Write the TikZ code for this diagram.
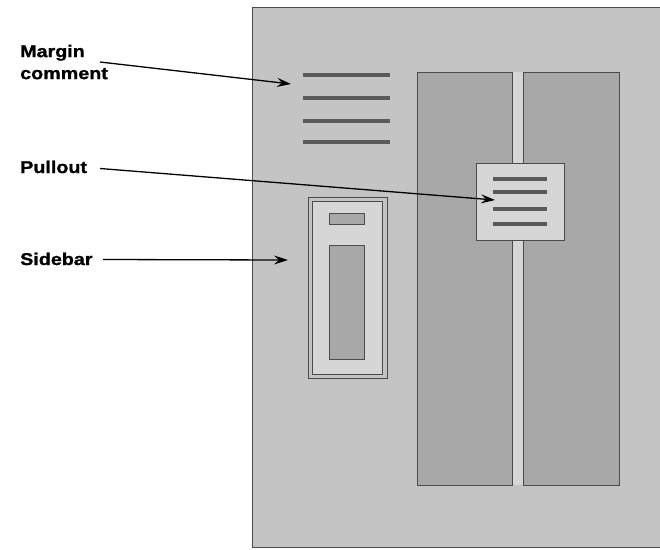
\documentclass[tikz,border=0pt]{standalone}
\usepackage{fontspec}
\newfontfamily\labfont[FakeStretch=1.16,FakeBold=1.2]{Liberation Sans Bold}
\usetikzlibrary{arrows.meta}
\definecolor{pagegray}{RGB}{196,196,196}
\definecolor{colgray}{RGB}{168,168,168}
\definecolor{lightgray}{RGB}{214,214,214}
\definecolor{edgegray}{RGB}{75,75,75}
\definecolor{linegray}{RGB}{90,90,90}
\begin{document}
\begin{tikzpicture}[x=1pt,y=-1pt,
  lab/.style={font=\labfont\fontsize{17}{22}\selectfont, inner sep=0pt, text=black, align=left},
  arr/.style={-{Stealth[length=14pt,width=9pt,inset=5pt]}, line width=1.3pt, black},
  txtline/.style={fill=linegray},
  edged/.style={draw=edgegray, line width=0.8pt},
  pagebox/.style={fill=pagegray, draw=edgegray, line width=0.8pt},
  colbox/.style={fill=colgray, edged},
  lightbox/.style={fill=lightgray, edged}]
\useasboundingbox (0,0) rectangle (660,549);
\fill[white] (0,0) rectangle (660,549);
% page
\draw[pagebox] (252,7) rectangle (663,547);
% columns and gutter
\fill[lightgray] (513,72) rectangle (523,485);
\draw[colbox] (417,72) rectangle (512.5,485);
\draw[colbox] (523.5,72) rectangle (619,485);
% margin comment lines
\foreach \yy in {75,98,121,142}
  \fill[txtline] (303,\yy-1.8) rectangle (390,\yy+1.8);
% pullout
\draw[lightbox] (476,163) rectangle (564,240);
\foreach \yy in {179,192,209,224}
  \fill[txtline] (493,\yy-1.8) rectangle (547,\yy+1.8);
% sidebar
\draw[pagebox] (308,197) rectangle (387,378);
\draw[lightbox] (312.5,201) rectangle (382.5,374);
\draw[colbox] (329,213) rectangle (364,224);
\draw[colbox] (329,245) rectangle (364,359);
% labels
\node[lab, anchor=north west] (mc) at (20,44.6) {Margin\\comment};
\node[lab, anchor=base west] (po) at (20,173) {Pullout};
\node[lab, anchor=base west] (sb) at (20,265) {Sidebar};
% arrow ends
\coordinate (mcS) at (100,62);
\coordinate (mcT) at (291,84);
\coordinate (poS) at (100,168.5);
\coordinate (poT) at (495,200);
\coordinate (sbS) at (103,259.5);
\coordinate (sbT) at (288,260);
\draw[arr] (mcS) -- (mcT);
\draw[arr] (poS) -- (poT);
\draw[arr] (sbS) -- (sbT);
\end{tikzpicture}
\end{document}
